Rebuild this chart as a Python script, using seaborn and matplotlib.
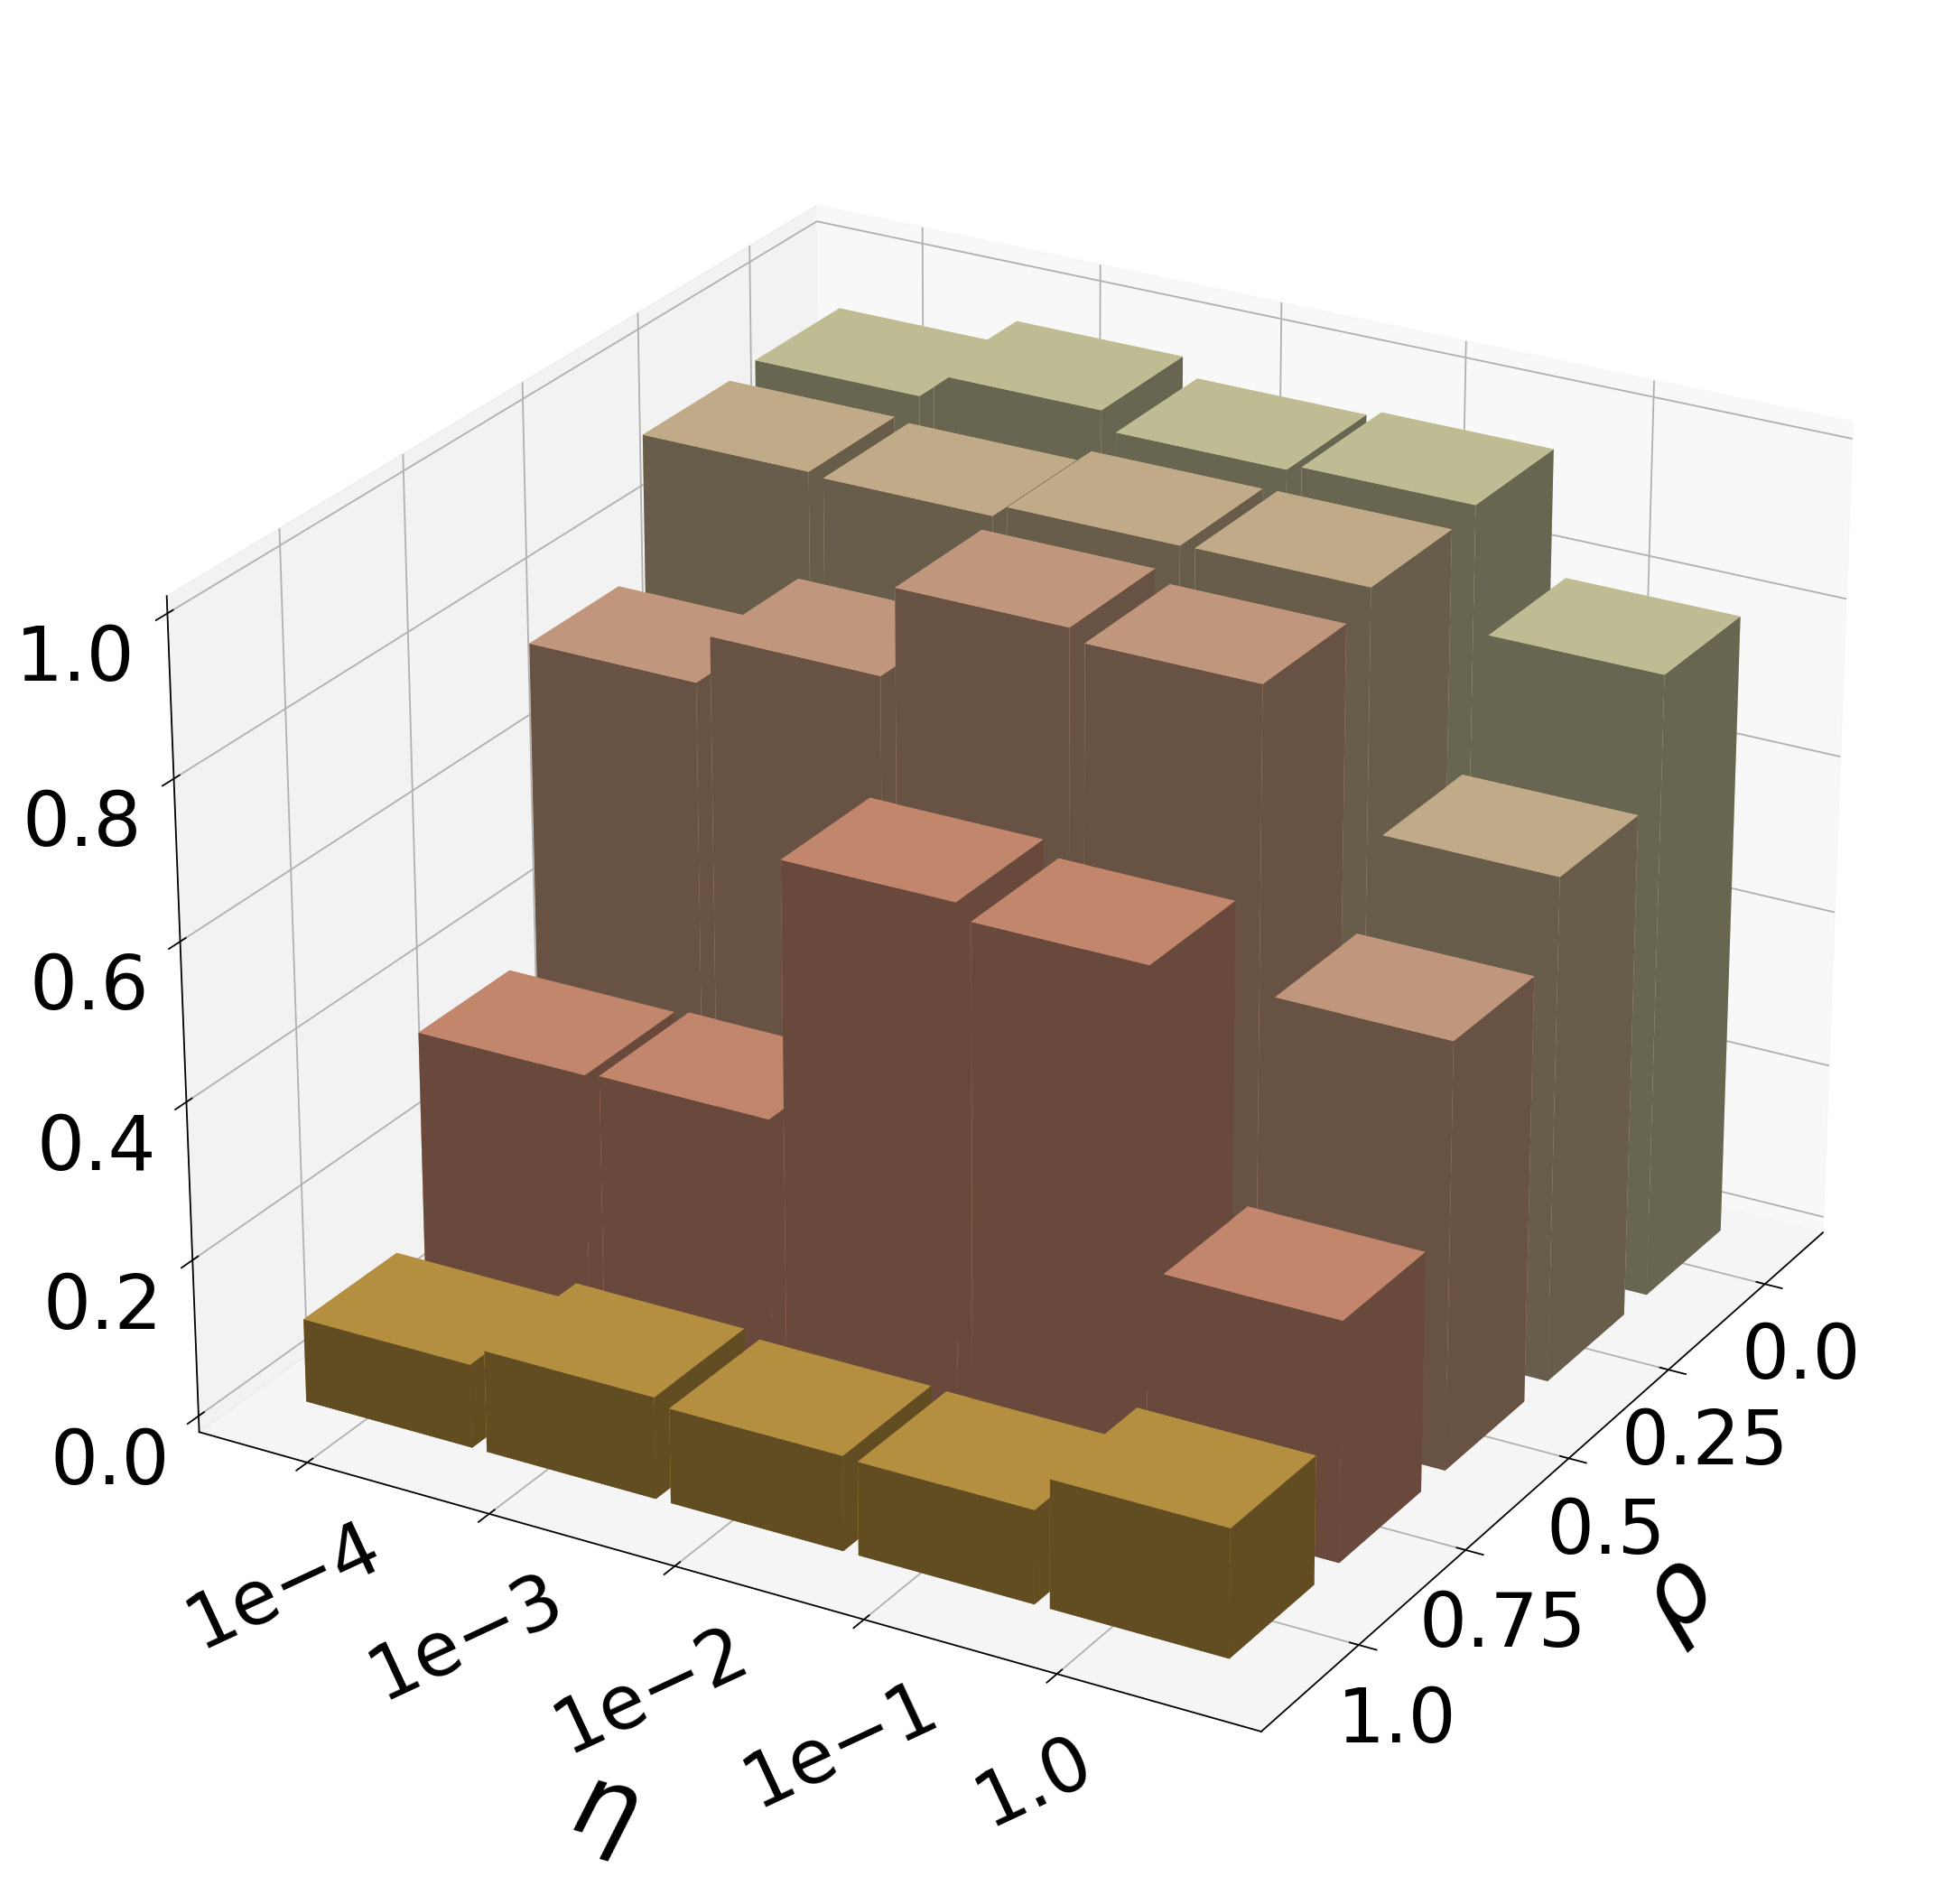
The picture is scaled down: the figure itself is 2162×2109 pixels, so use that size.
import numpy as np
import seaborn as sns
import matplotlib
matplotlib.use("Agg")
import matplotlib.pyplot as plt

eta_labels = ["1e\u22124", "1e\u22123", "1e\u22122", "1e\u22121", "1.0"]
rho_labels = ["0.0", "0.25", "0.5", "0.75", "1.0"]
z_ticks = [0.0, 0.2, 0.4, 0.6, 0.8, 1.0]

# one list per rho value, across eta
rho_00 = [0.936, 0.968, 0.944, 0.951, 0.793]
rho_025 = [0.930, 0.926, 0.941, 0.942, 0.640]
rho_05 = [0.759, 0.821, 0.934, 0.919, 0.540]
rho_075 = [0.365, 0.369, 0.697, 0.678, 0.303]
rho_10 = [0.106, 0.129, 0.120, 0.118, 0.162]
heights = [rho_00, rho_025, rho_05, rho_075, rho_10]

palette = sns.color_palette(["#F9F4C0", "#FADEB1", "#FAC4A2", "#FCAF8D", "#EBBA54"])


def main():
    plt.rcParams["grid.linewidth"] = 1.3
    plt.rcParams["axes.linewidth"] = 1.3
    plt.rcParams["xtick.major.width"] = 1.3
    plt.rcParams["ytick.major.width"] = 1.3

    fig = plt.figure(figsize=(21.62, 21.09), dpi=100)
    ax = fig.add_axes([0.013, 0.006, 1.0, 0.988], projection="3d")

    # x is rho, y is eta
    ypos, xpos = np.meshgrid(np.arange(5), np.arange(5))
    top = np.array(heights).ravel()
    colors = [palette[i] for i in xpos.ravel()]
    ax.bar3d(xpos.ravel(), ypos.ravel(), np.zeros(25), 0.77, 0.92, top,
             color=colors, shade=True, edgecolor="none", linewidth=0)

    ax.view_init(elev=25, azim=30)
    ax.set_xlim(-0.3675, 5.1325)
    ax.set_ylim(-0.353, 5.287)
    ax.set_zlim(-0.0208, 1.0208)

    ax.set_xticks(np.arange(5) + 0.25)
    ax.set_xticklabels(rho_labels, fontsize=60)
    ax.set_yticks(np.arange(5) + 0.25)
    ax.set_yticklabels(eta_labels, rotation=25, fontsize=60)
    ax.set_zticks(z_ticks)
    ax.set_zticklabels([str(t) for t in z_ticks], fontsize=60)
    ax.xaxis.set_rotate_label(True)
    ax.yaxis.set_rotate_label(True)
    ax.set_xlabel(r"$\rho$", fontsize=80, labelpad=70)
    ax.set_ylabel(r"$\eta$", fontsize=80, labelpad=114)
    ax.tick_params(axis="z", pad=33)
    ax.tick_params(axis="x", pad=19)
    ax.tick_params(axis="y", pad=20)

    fig.savefig("out.png", dpi=100)


if __name__ == "__main__":
    main()
